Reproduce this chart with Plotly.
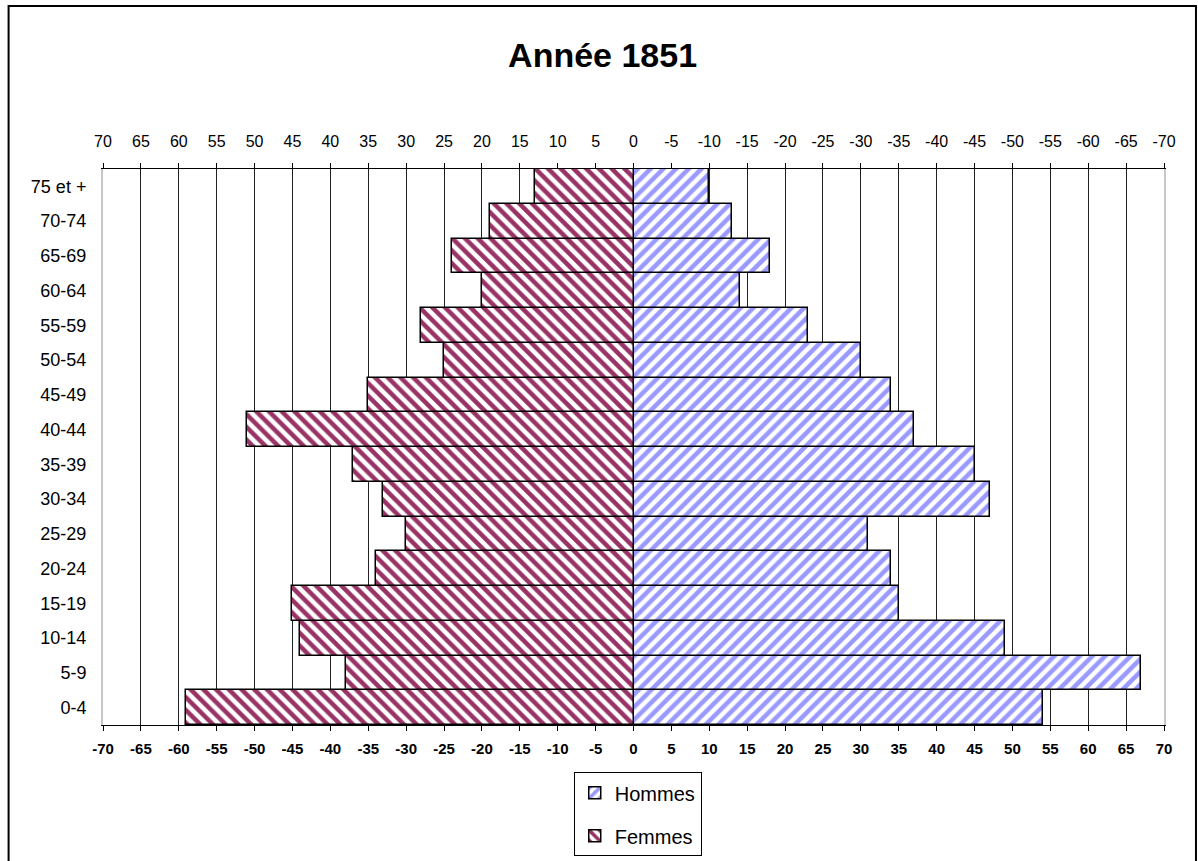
import plotly.graph_objects as go

# tranches d'age, du bas vers le haut
ages = ["0-4", "5-9", "10-14", "15-19", "20-24", "25-29", "30-34", "35-39",
        "40-44", "45-49", "50-54", "55-59", "60-64", "65-69", "70-74", "75 et +"]
hommes = [54, 67, 49, 35, 34, 31, 47, 45, 37, 34, 30, 23, 14, 18, 13, 10]
femmes = [59, 38, 44, 45, 34, 30, 33, 37, 51, 35, 25, 28, 20, 24, 19, 13]

# graduations (axe du bas et axe du haut inverse)
ticks = list(range(-70, 75, 5))
tick_labels = [str(t) for t in ticks]

FONT = "Liberation Sans, Arial, sans-serif"

fig = go.Figure()
fig.add_trace(go.Bar(
    y=ages, x=hommes, orientation="h", name="Hommes", legendgroup="h",
    xaxis="x", yaxis="y",
    marker=dict(color="white", line=dict(color="black", width=1.5),
                pattern=dict(shape="/", fgcolor="#9999FF", bgcolor="white",
                             size=9, solidity=0.5, fgopacity=1)),
))
# femmes sur l'axe du haut (inverse) => barres vers la gauche
fig.add_trace(go.Bar(
    y=ages, x=femmes, orientation="h", name="Femmes", legendgroup="f",
    xaxis="x2", yaxis="y",
    marker=dict(color="white", line=dict(color="black", width=1.5),
                pattern=dict(shape="\\", fgcolor="#993366", bgcolor="white",
                             size=9, solidity=0.5, fgopacity=1)),
))

fig.update_layout(
    width=1198, height=861,
    margin=dict(l=102.5, r=33.5, t=169, b=136, autoexpand=False),
    paper_bgcolor="white", plot_bgcolor="white",
    barmode="overlay", bargap=0,
    font=dict(family=FONT, color="black"),
    title=dict(text="<b>Année 1851</b>", x=0.503, xref="container", xanchor="center",
               y=0.936, yref="container", yanchor="middle",
               font=dict(size=34, family=FONT, color="black")),
    xaxis=dict(range=[-70, 70], tickvals=ticks, ticktext=tick_labels,
               showgrid=True, gridcolor="#222", gridwidth=1,
               zeroline=True, zerolinecolor="black", zerolinewidth=1.5,
               showline=True, linecolor="black", linewidth=1,
               ticks="outside", ticklen=5, tickcolor="black", ticklabelstandoff=5,
               tickfont=dict(size=15, family=FONT, weight="bold")),
    xaxis2=dict(range=[70, -70], tickvals=ticks, ticktext=tick_labels,
                overlaying="x", side="top", anchor="y", showgrid=False, zeroline=False,
                showline=True, linecolor="black", linewidth=1,
                ticks="outside", ticklen=5, tickcolor="black", ticklabelstandoff=10,
                tickfont=dict(size=16, family=FONT)),
    yaxis=dict(type="category", showgrid=False, showline=True, linecolor="#c8c8c8",
               linewidth=2, mirror=True, ticks="", ticklabelstandoff=11,
               automargin=False, tickfont=dict(size=18, family=FONT)),
    legend=dict(x=0.504, xanchor="center", y=-0.085, yanchor="top",
                bordercolor="black", borderwidth=1, bgcolor="white",
                traceorder="grouped", tracegroupgap=14,
                font=dict(size=20, family=FONT)),
    showlegend=True,
)

# cadre autour du graphique
fig.add_shape(type="rect", xref="paper", yref="paper",
              x0=(8 - 102.5) / 1062, x1=(1196.5 - 102.5) / 1062,
              y0=(725 - 6) / 556, y1=(725 - 880) / 556,
              line=dict(color="black", width=2), fillcolor="rgba(0,0,0,0)", layer="below")

fig.write_html("out.html", config={"displayModeBar": False},
               post_script="document.body.style.margin='0';")
